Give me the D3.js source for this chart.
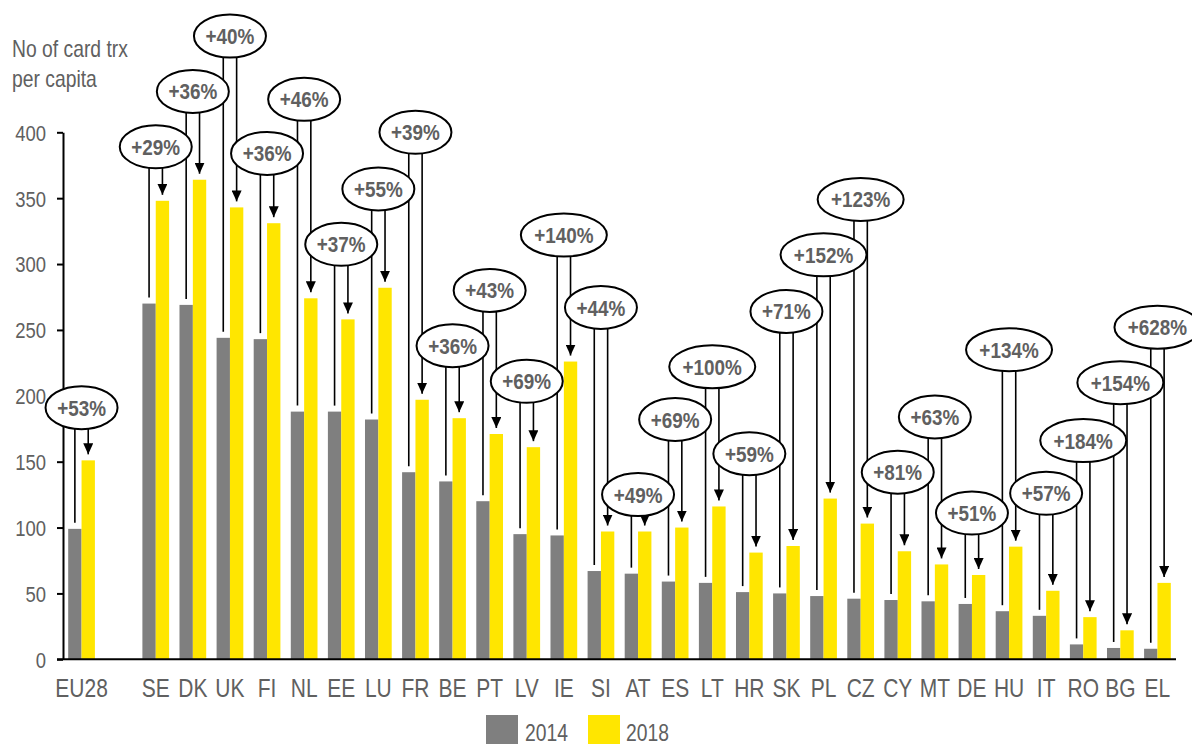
<!DOCTYPE html>
<html><head><meta charset="utf-8">
<script src="https://cdn.jsdelivr.net/npm/d3@7/dist/d3.min.js"></script>
<style>
body{margin:0;background:#fff}
svg{display:block}
text{font-family:"Liberation Sans",Arial,sans-serif}
</style>
</head><body>
<svg id="chart" width="1192" height="744"></svg>
<script>
// ---- data ----
const countries = ["EU28","SE","DK","UK","FI","NL","EE","LU","FR","BE","PT","LV","IE","SI","AT","ES","LT","HR","SK","PL","CZ","CY","MT","DE","HU","IT","RO","BG","EL"];
const values2014 = [99,270,269,244,243,188,188,182,142,135,120,95,94,67,65,59,58,51,50,48,46,45,44,42,36.5,33,11.3,8.6,8];
const values2018 = [151,348,364,343,331,274,258,282,197,183,171,161,226,97,97,100,116,81,86,122,103,82,72,64,85.5,52,32,22,58];
const growthPct = [53,29,36,40,36,46,37,55,39,36,43,69,140,44,49,69,100,59,71,152,123,81,63,51,134,57,184,154,628];
// height (in y-axis units) at which each growth bubble sits
const labelLevel = [191,389,431,473,384,425,315,357,400,238,280,211,322,267,125,182,222,156,264,307,349,142,184,111,235,126,166,210,252];
const yTicks = [0,50,100,150,200,250,300,350,400];
const seriesNames = ["2014","2018"];
const yTitle = ["No of card trx","per capita"];

// ---- styles ----
const GREY = "#7f7f7f", YELLOW = "#ffe600", TXT = "#606060";
const SX = 0.84; // condensed text

const svg = d3.select("#chart");
const slots = [countries[0], "__gap", ...countries.slice(1)];
const x = d3.scaleBand().domain(slots).range([63, 1176]).paddingInner(0).paddingOuter(0);
const y = d3.scaleLinear().domain([0, 400]).range([659.3, 132.3]);
const bw = x.bandwidth();
const barW = bw * 0.36;
const cxOf = c => x(c) + bw / 2;

function ctext(g, tx, ty, str, size, anchor, weight, fill) {
  return g.append("text")
    .attr("transform", `translate(${tx},${ty}) scale(${SX},1)`)
    .attr("text-anchor", anchor || "start")
    .attr("font-size", size)
    .attr("font-weight", weight || "normal")
    .attr("fill", fill || TXT)
    .text(str);
}

const data = countries.map((c, i) => ({c, v14: values2014[i], v18: values2018[i], g: growthPct[i], lv: labelLevel[i]}));

// bars
const bars = svg.append("g");
bars.selectAll("rect.a").data(data).join("rect")
  .attr("x", d => cxOf(d.c) - barW).attr("width", barW)
  .attr("y", d => y(d.v14)).attr("height", d => y(0) - y(d.v14))
  .attr("fill", GREY);
bars.selectAll("rect.b").data(data).join("rect")
  .attr("x", d => cxOf(d.c)).attr("width", barW)
  .attr("y", d => y(d.v18)).attr("height", d => y(0) - y(d.v18))
  .attr("fill", YELLOW);

// y axis
const yAxis = d3.axisLeft(y).tickValues(yTicks).tickSize(6).tickSizeOuter(0).tickPadding(11);
const ag = svg.append("g").attr("transform", "translate(63,0)").call(yAxis);
ag.select(".domain").attr("stroke", "#000").attr("stroke-width", 2);
ag.selectAll(".tick line").attr("stroke", "#000").attr("stroke-width", 2);
ag.selectAll(".tick text")
  .attr("font-size", 22).attr("fill", TXT).attr("font-family", '"Liberation Sans",Arial,sans-serif')
  .attr("dy", "0.36em")
  .attr("transform", function(){ const xx = +this.getAttribute("x"); return `translate(${xx},0) scale(${SX},1)`; })
  .attr("x", 0);

// baseline
svg.append("line").attr("x1", 57).attr("x2", 1176).attr("y1", y(0)).attr("y2", y(0))
  .attr("stroke", "#000").attr("stroke-width", 2);

// x labels
const xl = svg.append("g");
data.forEach(d => ctext(xl, cxOf(d.c), 697, d.c, 25, "middle"));

// y title
ctext(svg, 12, 57, yTitle[0], 23);
ctext(svg, 12, 87, yTitle[1], 23);

// arrow marker
svg.append("defs").append("marker")
  .attr("id", "arr").attr("markerUnits", "userSpaceOnUse")
  .attr("viewBox", "0 0 11 10").attr("refX", 11).attr("refY", 5)
  .attr("markerWidth", 11).attr("markerHeight", 10).attr("orient", "auto")
  .append("path").attr("d", "M0,0L11,5L0,10Z").attr("fill", "#000");

// annotations
const ann = svg.append("g");
const RY = 21.5;
const rxOf = d => String(d.g).length > 2 ? 43 : 36;
const edge = (d, dx) => y(d.lv) + RY * Math.sqrt(1 - Math.pow(dx / rxOf(d), 2));
data.forEach(d => {
  const cx = cxOf(d.c);
  const xl = cx - barW / 2, xr = cx + barW / 2;
  ann.append("line").attr("x1", xl).attr("x2", xl)
    .attr("y1", edge(d, barW / 2)).attr("y2", y(d.v14) - 6)
    .attr("stroke", "#000").attr("stroke-width", 1.6);
  ann.append("line").attr("x1", xr).attr("x2", xr)
    .attr("y1", edge(d, barW / 2)).attr("y2", y(d.v18) - 6)
    .attr("stroke", "#000").attr("stroke-width", 1.6)
    .attr("marker-end", "url(#arr)");
});
data.forEach(d => {
  const cx = cxOf(d.c), cy = y(d.lv);
  ann.append("ellipse").attr("cx", cx).attr("cy", cy).attr("rx", rxOf(d)).attr("ry", RY)
    .attr("fill", "#fff").attr("stroke", "#000").attr("stroke-width", 2);
  ctext(ann, cx, cy + 8, "+" + d.g + "%", 22.5, "middle", "bold", "#606060");
});

// legend
const lg = svg.append("g");
lg.append("rect").attr("x", 486).attr("y", 715).attr("width", 32).attr("height", 29).attr("fill", GREY);
ctext(lg, 525, 741, seriesNames[0], 23);
lg.append("rect").attr("x", 588).attr("y", 715).attr("width", 32).attr("height", 29).attr("fill", YELLOW);
ctext(lg, 626, 741, seriesNames[1], 23);
</script>
</body></html>
